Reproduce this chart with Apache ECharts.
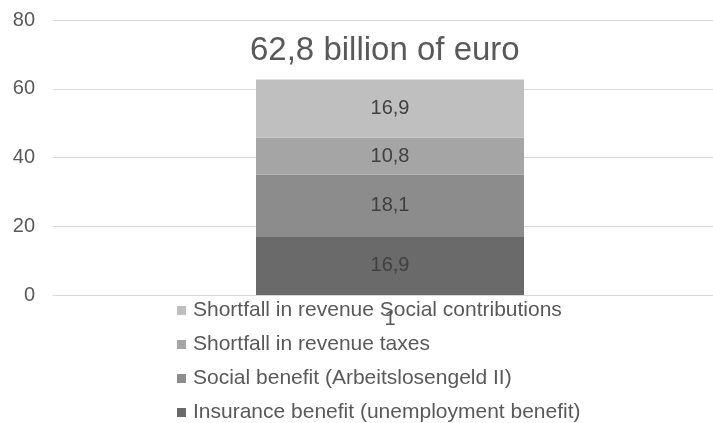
<!DOCTYPE html>
<html>
<head>
<meta charset="utf-8">
<script src="https://cdn.jsdelivr.net/npm/echarts@6/dist/echarts.min.js"></script>
<style>
  html, body { margin: 0; padding: 0; background: #ffffff; }
  #chart { width: 713px; height: 423px; }
</style>
</head>
<body>
<div id="chart"></div>
<script>
// Category on the x axis (single stacked column)
var categories = ['1'];

// Series names, bottom of the stack first
var seriesNames = [
  'Insurance benefit (unemployment benefit)',
  'Social benefit (Arbeitslosengeld II)',
  'Shortfall in revenue taxes',
  'Shortfall in revenue Social contributions'
];

// Values in billion euro, same order as seriesNames
var insuranceBenefit = [16.9];
var socialBenefit = [18.1];
var shortfallTaxes = [10.8];
var shortfallContributions = [16.9];

// Y axis ticks
var yTicks = [0, 20, 40, 60, 80];

var titleText = '62,8 billion of euro';

var seriesData = [insuranceBenefit, socialBenefit, shortfallTaxes, shortfallContributions];
var seriesColors = ['#6a6a6a', '#8c8c8c', '#a5a5a5', '#bfbfbf'];

var fontFamily = 'Liberation Sans, Arial, sans-serif';

function fmt(v) {
  return String(v).replace('.', ',');
}

var series = seriesNames.map(function (name, i) {
  return {
    name: name,
    type: 'bar',
    stack: 'total',
    barWidth: 268,
    data: seriesData[i],
    itemStyle: { color: seriesColors[i] },
    label: {
      show: true,
      position: 'inside',
      color: '#404040',
      fontSize: 20,
      fontFamily: fontFamily,
      formatter: function (p) { return fmt(p.value); }
    },
    emphasis: { disabled: true }
  };
});

var chart = echarts.init(document.getElementById('chart'), null, { renderer: 'canvas' });
chart.setOption({
  animation: false,
  backgroundColor: '#ffffff',
  title: {
    text: titleText,
    left: 250,
    top: 34,
    padding: 0,
    textStyle: {
      color: '#595959',
      fontSize: 33,
      fontWeight: 'normal',
      fontFamily: fontFamily
    }
  },
  grid: {
    left: 53,
    width: 674,
    top: 20,
    bottom: 128,
    containLabel: false,
    outerBoundsMode: 'none'
  },
  legend: {
    orient: 'vertical',
    left: 177,
    top: 300,
    padding: 0,
    itemGap: 13,
    itemWidth: 9,
    itemHeight: 9,
    icon: 'rect',
    data: seriesNames.slice().reverse(),
    textStyle: {
      color: '#595959',
      fontSize: 21,
      fontFamily: fontFamily,
      padding: [0, 0, 0, 2]
    }
  },
  xAxis: {
    type: 'category',
    data: categories,
    axisLine: { show: true, lineStyle: { color: '#d9d9d9', width: 1 } },
    axisTick: { show: false },
    axisLabel: {
      color: '#595959',
      fontSize: 20,
      margin: 14,
      fontFamily: fontFamily
    }
  },
  yAxis: {
    type: 'value',
    min: yTicks[0],
    max: yTicks[yTicks.length - 1],
    interval: yTicks[1] - yTicks[0],
    axisLine: { show: false },
    axisTick: { show: false },
    splitLine: { lineStyle: { color: '#d9d9d9', width: 1 } },
    axisLabel: {
      color: '#595959',
      fontSize: 20,
      margin: 18,
      fontFamily: fontFamily
    }
  },
  series: series
});
</script>
</body>
</html>
